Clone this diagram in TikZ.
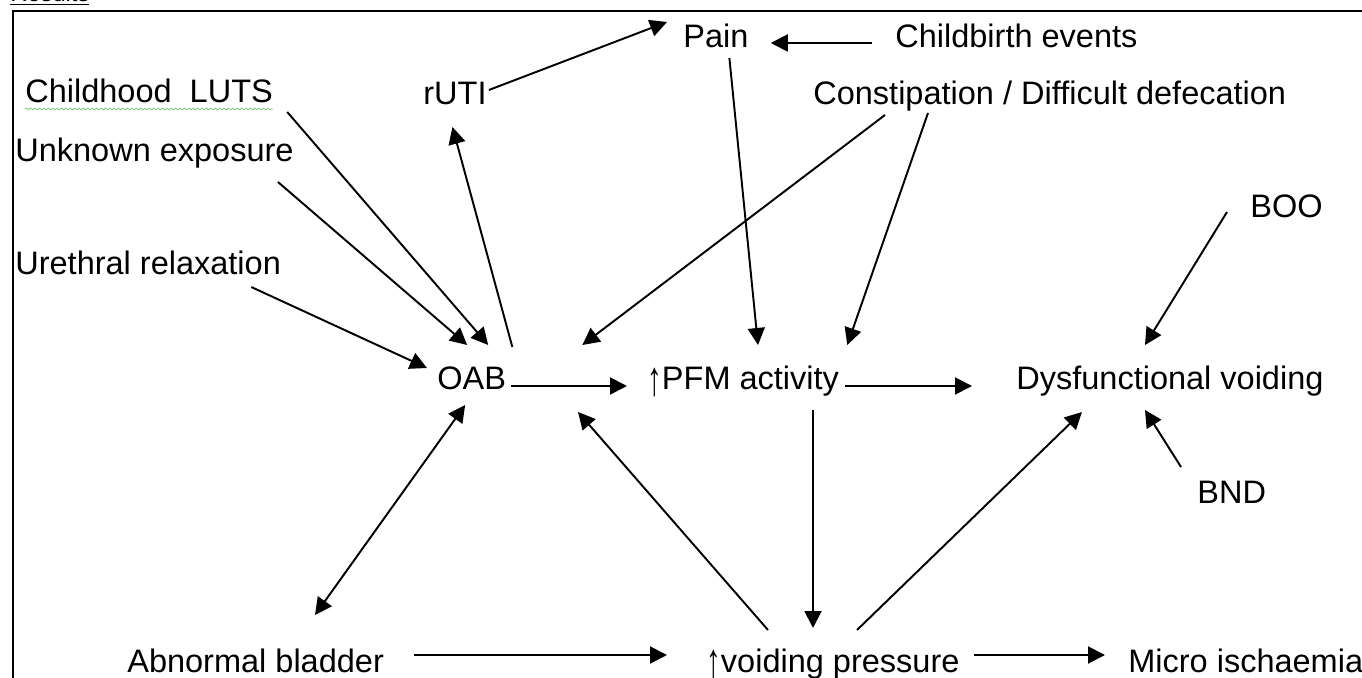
\documentclass[tikz,border=0pt]{standalone}
\usepackage{fontspec}
\setmainfont{Liberation Sans}
\usepackage{tikz}
\usetikzlibrary{positioning,calc,arrows.meta,decorations.pathmorphing}
\newcommand{\uparr}{\raisebox{-3pt}{\scalebox{0.9}[1.5]{↑}}}

\begin{document}
\begin{tikzpicture}[
        x=0.02cm, y=-0.02cm,
        lbl/.style={inner sep=0pt, anchor=base west, font=\fontsize{18.5}{22}\selectfont},
        arr/.style={line width=1.1pt, -{Triangle[length=0.34cm,width=0.34cm]}},
        darr/.style={line width=1.1pt, {Triangle[length=0.34cm,width=0.34cm]}-{Triangle[length=0.34cm,width=0.34cm]}}
    ]
    \useasboundingbox (0, 0) rectangle (1362, 678);

    % heading and frame
    \node[inner sep=0pt, anchor=base west, font=\fontsize{13.5}{16}\selectfont] (results) at (10, 2) {\underline{Results}};
    \draw[line width=1pt] (13, 690) -- (13, 11) -- (1370, 11);

    % causes
    \node[lbl] (luts) at (25, 103) {Childhood\ \ LUTS};
    \node[lbl] (unk) at (15, 162) {Unknown exposure};
    \node[lbl] (ure) at (15, 275) {Urethral relaxation};
    \node[lbl] (ruti) at (423, 105) {rUTI};
    \node[lbl] (pain) at (683, 48) {Pain};
    \node[lbl] (birth) at (895, 48) {Childbirth events};
    \node[lbl] (const) at (813, 105) {Constipation / Difficult defecation};
    \node[lbl] (boo) at (1250, 218) {BOO};
    \node[lbl] (bnd) at (1197, 503) {BND};

    % middle row
    \node[lbl] (oab) at (437, 390) {OAB};
    \node[lbl] (pfm) at (647, 390) {\uparr PFM activity};
    \node[lbl] (dys) at (1016, 390) {Dysfunctional voiding};

    % bottom row
    \node[lbl] (abn) at (127, 672) {Abnormal bladder};
    \node[lbl] (vp) at (706, 672) {\uparr voiding pressure};
    \node[lbl] (micro) at (1128, 672) {Micro ischaemia};

    % spell check mark
    \draw[green!55!black!55, line width=0.4pt, decorate, decoration={snake, amplitude=0.5pt, segment length=2.5pt}]
        ($(luts.base west) + (0, 6)$) -- ($(luts.base east) + (0, 6)$);

    % arrows
    \draw[arr] ($(ruti.base east) + (2, -15)$) -- ($(pain.base west) + (-16, -26)$);
    \draw[arr] ($(birth.base west) + (-23, -5)$) -- ($(pain.base east) + (22, -5)$);
    \draw[arr] ($(luts.base east) + (14, 9)$) -- ($(oab.base) + (16.5, -45)$);
    \draw[arr] ($(unk.base east) + (-16, 20)$) -- ($(oab.base) + (-4.5, -45)$);
    \draw[arr] ($(ure.base east) + (-30, 12)$) -- ($(oab.base west) + (-10, -22)$);
    \draw[arr] ($(oab.base east) + (6, -43)$) -- ($(ruti.base) + (-2.5, 22)$);
    \draw[arr] ($(const.base west) + (72, 10)$) -- ($(oab.base east) + (76, -45)$);
    \draw[arr] ($(const.base west) + (115, 8)$) -- ($(pfm.base east) + (8, -45)$);
    \draw[arr] ($(pain.base) + (13.5, 10)$) -- ($(pfm.base west) + (111, -45)$);
    \draw[arr] ($(oab.base east) + (5, -4)$) -- ($(pfm.base west) + (-20, -4)$);
    \draw[arr] ($(pfm.base east) + (6, -4)$) -- ($(dys.base west) + (-44, -4)$);
    \draw[arr] ($(pfm.base west) + (166, 20)$) -- ($(vp.base west) + (107, -44)$);
    \draw[arr] ($(vp.base west) + (62, -42)$) -- ($(pfm.base west) + (-69, 22)$);
    \draw[arr] ($(vp.base west) + (151, -42)$) -- ($(dys.base west) + (66, 22)$);
    \draw[arr] ($(boo.base west) + (-23, -6)$) -- ($(dys.base west) + (129, -45)$);
    \draw[arr] ($(bnd.base west) + (-16, -36)$) -- ($(dys.base west) + (129, 20)$);
    \draw[darr] ($(oab.base) + (-6.5, 15)$) -- ($(abn.base west) + (188, -57)$);
    \draw[arr] ($(abn.base east) + (30, -17)$) -- ($(vp.base west) + (-39, -17)$);
    \draw[arr] ($(vp.base east) + (14, -17)$) -- ($(micro.base west) + (-23, -17)$);
\end{tikzpicture}
\end{document}
